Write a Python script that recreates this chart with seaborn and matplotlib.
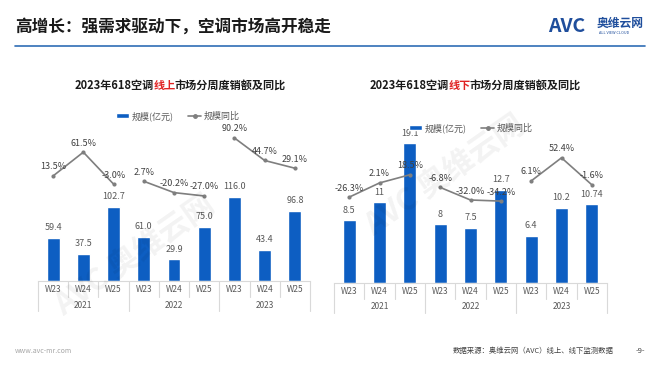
import numpy as np
import pandas as pd
import seaborn as sns
import matplotlib.pyplot as plt
from matplotlib.lines import Line2D
from matplotlib.patches import Patch

years = ['2021', '2022', '2023']
weeks = ['W23', 'W24', 'W25']

# 线上 (online)
online_sales = [59.4, 37.5, 102.7, 61.0, 29.9, 75.0, 116.0, 43.4, 96.8]
online_yoy = [13.5, 61.5, -3.0, 2.7, -20.2, -27.0, 90.2, 44.7, 29.1]
# 线下 (offline)
offline_sales = [8.5, 11, 19.1, 8, 7.5, 12.7, 6.4, 10.2, 10.74]
offline_yoy = [-26.3, 2.1, 18.5, -6.8, -32.0, -34.2, 6.1, 52.4, -1.6]

BLUE = '#0d5ec2'
GREY = '#7f7f7f'
TXT = '#595959'
SEP = '#d9d9d9'
W, H = 660, 372

sns.set_theme(style='white')
plt.rcParams['font.family'] = ['Noto Sans CJK SC', 'DejaVu Sans']

fig = plt.figure(figsize=(W / 100, H / 100), dpi=100)
fig.patch.set_facecolor('white')


def px_box(x0, x1, ytop, ybot):
    return [x0 / W, (H - ybot) / H, (x1 - x0) / W, (ybot - ytop) / H]


def colored_title(xc, y, head, red, tail, size=8, kern=1.0):
    # three pieces side by side, tail pulled back slightly
    r = fig.canvas.get_renderer()
    kw = dict(fontsize=size, fontweight='bold', va='center')
    probe = fig.text(0, 0, head, **kw)
    w_head = probe.get_window_extent(r).width
    probe.set_text(red)
    w_red = probe.get_window_extent(r).width
    probe.set_text(tail)
    w_tail = probe.get_window_extent(r).width
    probe.remove()
    total = w_head + w_red - kern + w_tail
    x0 = xc - total / 2
    yy = 1 - y / H
    fig.text(x0 / W, yy, head, color='#1a1a1a', **kw)
    fig.text((x0 + w_head) / W, yy, red, color='#e02424', **kw)
    fig.text((x0 + w_head + w_red - kern) / W, yy, tail, color='#1a1a1a', **kw)


def draw_chart(box, sales, yoy, bar_lim, line_lim, fmt):
    ax = fig.add_axes(box)
    df = pd.DataFrame({
        'slot': [f'{y}-{w}' for y in years for w in weeks],
        'sales': sales,
        'yoy': yoy,
        'year': np.repeat(years, 3),
        'pos': np.arange(9),
    })
    sns.barplot(data=df, x='slot', y='sales', color=BLUE, saturation=1,
                width=0.43, ax=ax)
    ax.bar_label(ax.containers[0], labels=[fmt(v) for v in sales],
                 padding=4, fontsize=6.5, color=TXT)

    ax2 = ax.twinx()
    sns.lineplot(data=df, x='pos', y='yoy', hue='year', palette=[GREY] * 3,
                 marker='o', markersize=3, markeredgewidth=0, linewidth=1.2,
                 legend=False, ax=ax2)
    for p, v in zip(df['pos'], yoy):
        ax2.annotate(f'{v:.1f}%', (p, v), xytext=(0, 9),
                     textcoords='offset pixels', ha='center', va='center',
                     fontsize=6.5, color='#404040')

    hpx = ax.bbox.height
    for b in np.arange(-0.5, 9, 1.0):
        L = 30 if b in (-0.5, 2.5, 5.5, 8.5) else 16
        ax.plot([b, b], [0, -L / hpx], transform=ax.get_xaxis_transform(),
                clip_on=False, color=SEP, lw=0.8)
    for i, y in enumerate(years):
        ax.annotate(y, (3 * i + 1, 0), xycoords=('data', 'axes fraction'),
                    xytext=(0, -24), textcoords='offset pixels',
                    ha='center', va='center', fontsize=6, color=TXT)

    ax.set_xticks(range(9))
    ax.set_xticklabels(weeks * 3)
    ax.tick_params(axis='x', length=0, pad=3, labelsize=6, labelcolor=TXT)
    ax.set_yticks([])
    ax2.set_yticks([])
    ax.set_xlabel('')
    ax.set_ylabel('')
    ax2.set_xlabel('')
    ax2.set_ylabel('')
    for s in ['top', 'left', 'right']:
        ax.spines[s].set_visible(False)
    for s in ax2.spines.values():
        s.set_visible(False)
    ax.spines['bottom'].set_color(SEP)
    ax.spines['bottom'].set_linewidth(0.8)
    ax.set_xlim(-0.5, 8.5)
    ax2.set_xlim(-0.5, 8.5)
    ax.set_ylim(*bar_lim)
    ax2.set_ylim(*line_lim)
    return ax


def legend_at(xc, y):
    handles = [Patch(facecolor=BLUE, label='规模(亿元)'),
               Line2D([0], [0], color=GREY, marker='o', markersize=2.5,
                      lw=1.2, label='规模同比')]
    fig.legend(handles=handles, loc='center', bbox_to_anchor=(xc / W, 1 - y / H),
               ncol=2, frameon=False, fontsize=6.5, handlelength=1.4,
               handleheight=0.55, columnspacing=1.6, handletextpad=0.3,
               labelcolor=TXT)


# faint watermarks
for (x, y, rot) in [(135, 255, 35), (445, 175, 35)]:
    fig.text(x / W, 1 - y / H, 'AVC 奥维云网', fontsize=22, fontweight='bold',
             color='#000000', alpha=0.05, rotation=rot, ha='center', va='center')

# left chart (online)
draw_chart(px_box(38, 310, 130, 281), online_sales, online_yoy,
           (0, 151 / 0.724), (-198.8, 106.3), lambda v: f'{v:.1f}')
colored_title(180, 85, '2023年618空调', '线上', '市场分周度销额及同比')
legend_at(178, 116)

# right chart (offline)
draw_chart(px_box(334, 607, 130, 282.5), offline_sales, offline_yoy,
           (0, 152.5 / 7.3), (-197, 108), lambda v: f'{v:g}')
colored_title(475, 85, '2023年618空调', '线下', '市场分周度销额及同比')
legend_at(471, 128)

# header
fig.text(15 / W, 1 - 27 / H, '高增长：强需求驱动下，空调市场高开稳走', fontsize=12,
         fontweight='bold', color='#1a1a1a', va='center')
fig.add_artist(Line2D([15 / W, 645 / W], [1 - 46 / H] * 2, color='#2f6db5', lw=1.2))
fig.text(548 / W, 1 - 26 / H, 'AVC', fontsize=14, fontweight='bold', style='italic',
         color='#1f4e9c', va='center')
fig.text(597 / W, 1 - 23 / H, '奥维云网', fontsize=8.5, fontweight='bold',
         color='#1f4e9c', va='center')
fig.text(599 / W, 1 - 33 / H, 'ALL VIEW CLOUD', fontsize=2.8, color='#1f4e9c', va='center')

# footer
fig.text(15 / W, 1 - 351 / H, 'www.avc-mr.com', fontsize=5, color='#a6a6a6', va='center')
fig.text(614 / W, 1 - 351 / H, '数据来源：奥维云网（AVC）线上、线下监测数据', fontsize=5.3,
         color='#404040', va='center', ha='right')
fig.text(640 / W, 1 - 351 / H, '-9-', fontsize=5.5, color='#404040', va='center', ha='center')

fig.savefig('out.png', dpi=100)
